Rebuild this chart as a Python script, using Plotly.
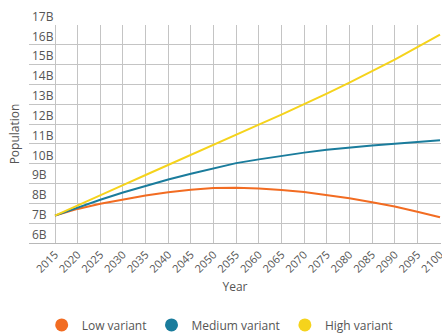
import plotly.graph_objects as go

years = list(range(2015, 2101, 5))

low_variant = [7.38, 7.72, 7.98, 8.20, 8.40, 8.56, 8.69, 8.77, 8.79, 8.75,
               8.68, 8.57, 8.43, 8.26, 8.06, 7.84, 7.58, 7.30]
medium_variant = [7.38, 7.80, 8.18, 8.55, 8.89, 9.20, 9.49, 9.77, 10.03, 10.22,
                  10.40, 10.56, 10.70, 10.82, 10.92, 11.01, 11.10, 11.18]
high_variant = [7.38, 7.88, 8.40, 8.92, 9.43, 9.93, 10.44, 10.95, 11.46, 11.97,
                12.48, 13.00, 13.54, 14.09, 14.66, 15.25, 15.88, 16.52]

y_ticks = list(range(6, 18))
y_tick_labels = [f"{v}B" for v in y_ticks]

series = [
    ("Low variant", low_variant, "#f26c22"),
    ("Medium variant", medium_variant, "#1a7c9c"),
    ("High variant", high_variant, "#f5d31c"),
]

fig = go.Figure()
for name, values, color in series:
    fig.add_trace(go.Scatter(
        x=years, y=values, mode="lines", name=name,
        line=dict(color=color, width=2), showlegend=False,
    ))
# legend entries drawn as filled circles
for name, values, color in series:
    fig.add_trace(go.Scatter(
        x=[None], y=[None], mode="markers", name=name,
        marker=dict(color=color, size=13, symbol="circle"),
    ))

fig.update_layout(
    width=442, height=336,
    margin=dict(l=29, r=1, t=25, b=93),
    paper_bgcolor="white", plot_bgcolor="white",
    font=dict(family="Open Sans", color="#555555", size=11),
    xaxis=dict(
        range=[2009.26, 2100.22], tickvals=years, tickangle=-45,
        ticklabeloverflow="allow", automargin=False,
        showgrid=True, gridcolor="#c4c4c4", gridwidth=1,
        zeroline=False, showline=True, linecolor="#b8b8b8",
        ticks="", tickfont=dict(size=11, color="#555555"),
        title=dict(text="Year", font=dict(size=12, color="#555555"), standoff=8),
    ),
    yaxis=dict(
        range=[6, 17], tickvals=y_ticks, ticktext=y_tick_labels,
        ticklabelposition="inside top", ticklabeloverflow="allow",
        automargin=False,
        showgrid=True, gridcolor="#c4c4c4", gridwidth=1,
        zeroline=False, showline=False, ticks="",
        tickfont=dict(size=12, color="#555555"),
        title=dict(text="Population", font=dict(size=12, color="#555555"), standoff=9),
    ),
    legend=dict(
        orientation="h", xref="container", yref="container",
        x=0.497, xanchor="center", y=0.033, yanchor="middle",
        font=dict(size=12, color="#555555"), itemwidth=30,
    ),
)

fig.write_html("out.html")
